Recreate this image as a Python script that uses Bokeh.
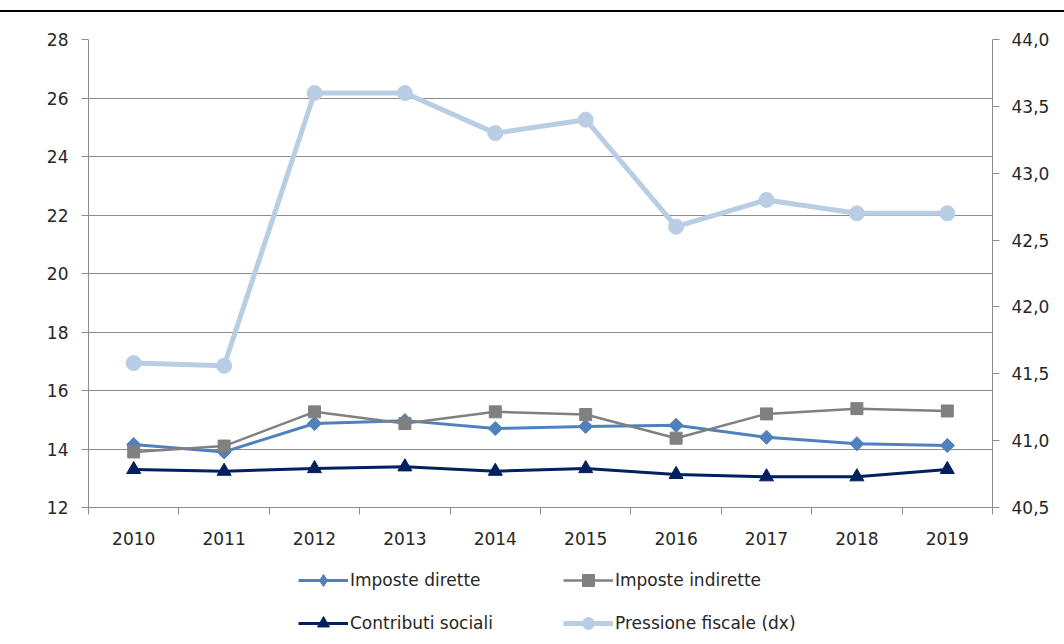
import numpy as np
from bokeh.plotting import figure
from bokeh.layouts import column
from bokeh.models import (Range1d, LinearAxis, FixedTicker, CustomJSTickFormatter,
                          Legend, LegendItem, Div)
from bokeh.embed import file_html
from bokeh.resources import INLINE

years = ["2010", "2011", "2012", "2013", "2014", "2015", "2016", "2017", "2018", "2019"]
imposte_dirette = [14.15, 13.90, 14.87, 14.97, 14.70, 14.77, 14.81, 14.40, 14.18, 14.12]
imposte_indirette = [13.90, 14.10, 15.27, 14.87, 15.27, 15.18, 14.37, 15.20, 15.38, 15.30]
contributi_sociali = [13.30, 13.24, 13.33, 13.39, 13.24, 13.33, 13.13, 13.05, 13.05, 13.30]
pressione_fiscale = [41.58, 41.56, 43.6, 43.6, 43.3, 43.4, 42.6, 42.8, 42.7, 42.7]
left_ticks = [12, 14, 16, 18, 20, 22, 24, 26, 28]
right_ticks = [40.5, 41.0, 41.5, 42.0, 42.5, 43.0, 43.5, 44.0]

FONT = "DejaVu Sans"
FS = "17px"
TXT = "#262626"
AX = "#8c8c8c"
C1, C2, C3, C4 = "#4f81bd", "#808080", "#002060", "#b9cde5"

n = len(years)
x = list(range(1, n + 1))
bounds = [i + 0.5 for i in range(0, n + 1)]

rule = Div(text="", width=1064, height=12, margin=(0, 0, 0, 0),
           styles={"border-bottom": "2px solid black", "box-sizing": "border-box"})

p = figure(width=1064, height=536, output_backend="svg", toolbar_location=None,
           x_range=Range1d(0.5, n + 0.5), y_range=Range1d(left_ticks[0], left_ticks[-1]),
           min_border_left=88, min_border_right=72, min_border_top=27, min_border_bottom=41)
p.extra_y_ranges = {"dx": Range1d(right_ticks[0], right_ticks[-1])}
p.outline_line_color = None
p.background_fill_color = "white"
p.border_fill_color = "white"

# x axis: labels at centres, tick marks at category boundaries
xa = p.xaxis[0]
xa.ticker = FixedTicker(ticks=x, minor_ticks=bounds)
xa.formatter = CustomJSTickFormatter(args=dict(labels=years),
                                     code="return labels[Math.round(tick) - 1];")
xa.major_tick_line_color = None
xa.major_tick_in = 0
xa.major_tick_out = 0
xa.minor_tick_in = 0
xa.minor_tick_out = 7
xa.minor_tick_line_color = AX
xa.axis_line_color = AX
xa.major_label_standoff = 17
xa.major_label_text_font = FONT
xa.major_label_text_font_size = FS
xa.major_label_text_color = TXT

ya = p.yaxis[0]
ya.ticker = FixedTicker(ticks=left_ticks)
ya.major_tick_in = 0
ya.major_tick_out = 7
ya.minor_tick_line_color = None
ya.major_tick_line_color = AX
ya.axis_line_color = AX
ya.major_label_standoff = 13
ya.major_label_text_font = FONT
ya.major_label_text_font_size = FS
ya.major_label_text_color = TXT

ra = LinearAxis(y_range_name="dx", ticker=FixedTicker(ticks=right_ticks),
                formatter=CustomJSTickFormatter(code="return tick.toFixed(1).replace('.', ',');"))
ra.major_tick_in = 0
ra.major_tick_out = 7
ra.minor_tick_line_color = None
ra.major_tick_line_color = AX
ra.axis_line_color = AX
ra.major_label_standoff = 12
ra.major_label_text_font = FONT
ra.major_label_text_font_size = FS
ra.major_label_text_color = TXT
p.add_layout(ra, "right")

p.xgrid.grid_line_color = None
p.ygrid.ticker = FixedTicker(ticks=left_ticks)
p.ygrid.grid_line_color = AX
p.ygrid.grid_line_width = 1


def add_series(fig, y_range_name="default", legend_only=False):
    r = {}
    if legend_only:
        dmark = dict(marker="diamond", size=14)
    else:
        dmark = dict(marker="square", angle=np.pi / 4, size=10)
    r["d"] = (fig.line(x, imposte_dirette, line_color=C1, line_width=3),
              fig.scatter(x, imposte_dirette, fill_color=C1, line_color=C1, **dmark))
    r["i"] = (fig.line(x, imposte_indirette, line_color=C2, line_width=2.5),
              fig.scatter(x, imposte_indirette, marker="square", size=12,
                          fill_color=C2, line_color=C2))
    r["c"] = (fig.line(x, contributi_sociali, line_color=C3, line_width=3),
              fig.scatter(x, contributi_sociali, marker="triangle", size=14,
                          fill_color=C3, line_color=C3))
    r["p"] = (fig.line(x, pressione_fiscale, y_range_name=y_range_name, line_color=C4, line_width=5),
              fig.scatter(x, pressione_fiscale, y_range_name=y_range_name, marker="circle", size=15,
                          fill_color=C4, line_color=C4))
    return r


add_series(p, "dx")

# legend strip below the chart (same series, drawn out of view; only the legend shows)
q = figure(width=1064, height=96, output_backend="svg", toolbar_location=None,
           x_range=Range1d(0.5, n + 0.5), y_range=Range1d(100, 101),
           x_axis_type=None, y_axis_type=None,
           min_border_left=0, min_border_right=0, min_border_top=0, min_border_bottom=0)
q.outline_line_color = None
q.xgrid.grid_line_color = None
q.ygrid.grid_line_color = None
rq = add_series(q, legend_only=True)


def make_legend(items, loc):
    return Legend(items=items, location=loc, orientation="vertical",
                  glyph_width=50, glyph_height=30, label_height=30, spacing=13,
                  padding=0, margin=0, label_standoff=2,
                  border_line_color=None, background_fill_alpha=0,
                  label_text_font=FONT, label_text_font_size=FS, label_text_color=TXT)


# the column aligns this strip's frame with the chart frame (left edge at 88px)
leg1 = make_legend([LegendItem(label="Imposte dirette", renderers=list(rq["d"])),
                    LegendItem(label="Contributi sociali", renderers=list(rq["c"]))], (210, 6))
leg2 = make_legend([LegendItem(label="Imposte indirette", renderers=list(rq["i"])),
                    LegendItem(label="Pressione fiscale (dx)", renderers=list(rq["p"]))], (475, 6))
q.add_layout(leg1, "center")
q.add_layout(leg2, "center")

open("out.html", "w").write(file_html(column(rule, p, q, spacing=0), INLINE))
